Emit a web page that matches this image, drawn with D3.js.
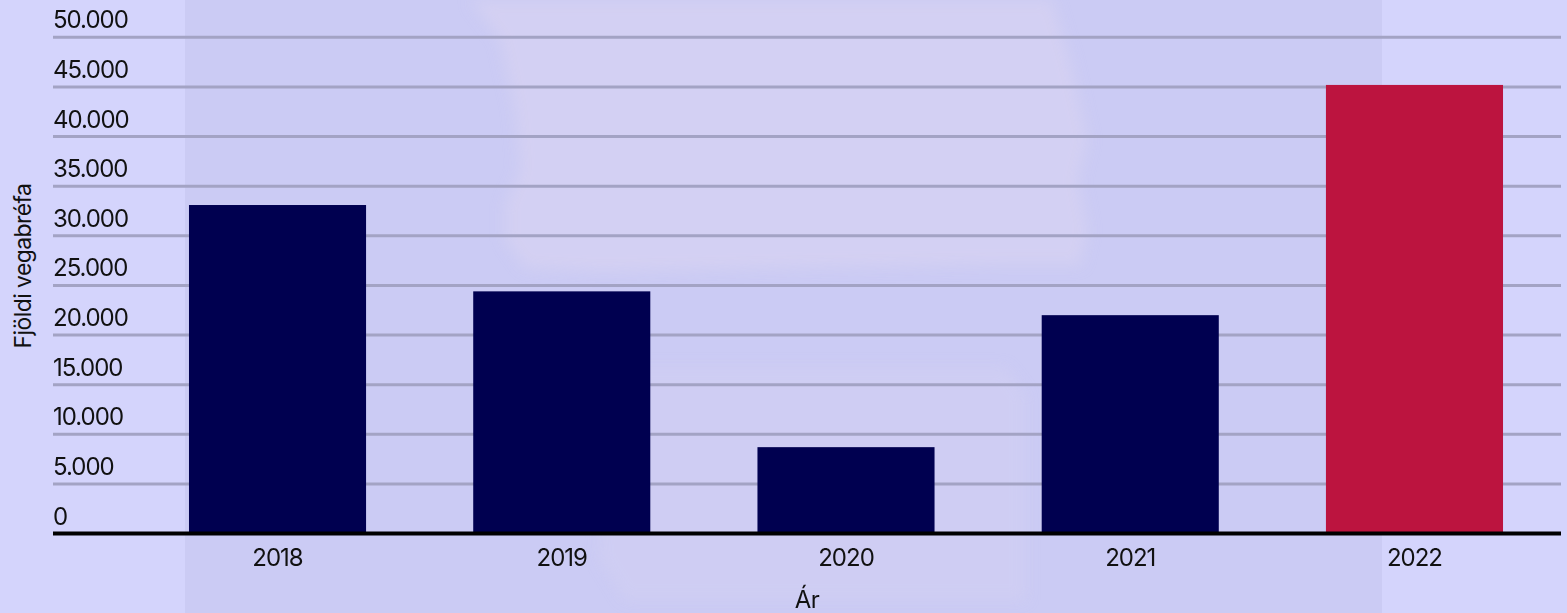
<!DOCTYPE html>
<html>
<head>
<meta charset="utf-8">
<script src="https://cdn.jsdelivr.net/npm/d3@7"></script>
<style>
  html, body { margin: 0; padding: 0; background: #d4d4fc; }
  svg { display: block; font-family: Inter, "Liberation Sans", sans-serif; }
</style>
</head>
<body>
<svg id="chart" width="1567" height="613"></svg>
<script>
// ---------- Data ----------
const years = ['2018', '2019', '2020', '2021', '2022'];
const passports = [33100, 24400, 8700, 22000, 45200];
const yTicks = [0, 5000, 10000, 15000, 20000, 25000, 30000, 35000, 40000, 45000, 50000];
const highlightYear = '2022';

const width = 1567, height = 613;
const left = 53, right = 1561;
const svg = d3.select('#chart');

// ---------- Background watermark ----------
const defs = svg.append('defs');
defs.append('filter').attr('id', 'soft')
  .attr('x', '-10%').attr('y', '-10%').attr('width', '120%').attr('height', '120%')
  .append('feGaussianBlur').attr('stdDeviation', 7);

const bg = svg.append('g');
bg.append('rect').attr('width', width).attr('height', height).attr('fill', '#d4d4fc');
bg.append('rect').attr('x', 185).attr('y', 0).attr('width', 1197).attr('height', height)
  .attr('fill', '#cbcbf4');
// faint building silhouette
const ghost = bg.append('g').attr('filter', 'url(#soft)');
ghost.append('path')
  .attr('d', 'M470,0 L500,40 L515,110 L520,170 L505,205 L505,240 L525,268 L600,272 L800,268 L1000,265 L1080,265 L1088,230 L1078,180 L1088,140 L1070,60 L1052,0 Z')
  .attr('fill', '#d8d4f2').attr('opacity', 0.6);
ghost.append('path')
  .attr('d', 'M595,368 L1005,368 L1025,395 L1025,600 L625,600 L600,560 Z')
  .attr('fill', '#d4d1f1').attr('opacity', 0.45);

// ---------- Scales ----------
const x = d3.scaleBand()
  .domain(years)
  .range([135.4, 1556.6])
  .paddingInner(0.377)
  .paddingOuter(0.1885);

const y = d3.scaleLinear()
  .domain([0, 50000])
  .range([533.5, 37.3]);

const fmt = v => d3.format(',')(v).replace(/,/g, '.');

// ---------- Grid ----------
const grid = svg.append('g').attr('class', 'grid');
grid.selectAll('line')
  .data(yTicks.filter(t => t > 0))
  .join('line')
  .attr('x1', left).attr('x2', right)
  .attr('y1', d => y(d)).attr('y2', d => y(d))
  .attr('stroke', '#a3a3c4')
  .attr('stroke-width', 3);

grid.selectAll('text')
  .data(yTicks)
  .join('text')
  .attr('x', left)
  .attr('y', d => y(d) - 9)
  .attr('font-size', 24)
  .attr('letter-spacing', -1)
  .attr('fill', '#111')
  .text(fmt);

// ---------- Bars ----------
svg.append('g').selectAll('rect')
  .data(years.map((yr, i) => ({ year: yr, value: passports[i] })))
  .join('rect')
  .attr('x', d => x(d.year))
  .attr('width', x.bandwidth())
  .attr('y', d => y(d.value))
  .attr('height', d => y(0) - y(d.value))
  .attr('fill', d => d.year === highlightYear ? '#bc143f' : '#000050');

// ---------- X axis ----------
svg.append('line')
  .attr('x1', left).attr('x2', right)
  .attr('y1', y(0)).attr('y2', y(0))
  .attr('stroke', '#000')
  .attr('stroke-width', 4);

svg.append('g').selectAll('text')
  .data(years)
  .join('text')
  .attr('x', d => x(d) + x.bandwidth() / 2)
  .attr('y', y(0) + 32.5)
  .attr('text-anchor', 'middle')
  .attr('font-size', 24)
  .attr('letter-spacing', -1)
  .attr('fill', '#111')
  .text(d => d);

// ---------- Axis titles ----------
svg.append('text')
  .attr('x', (left + right) / 2)
  .attr('y', 608)
  .attr('text-anchor', 'middle')
  .attr('font-size', 24)
  .attr('letter-spacing', -0.5)
  .attr('fill', '#111')
  .text('Ár');

svg.append('text')
  .attr('transform', 'translate(31,266) rotate(-90)')
  .attr('text-anchor', 'middle')
  .attr('font-size', 23)
  .attr('letter-spacing', -0.6)
  .attr('fill', '#111')
  .text('Fjöldi vegabréfa');
</script>
</body>
</html>
